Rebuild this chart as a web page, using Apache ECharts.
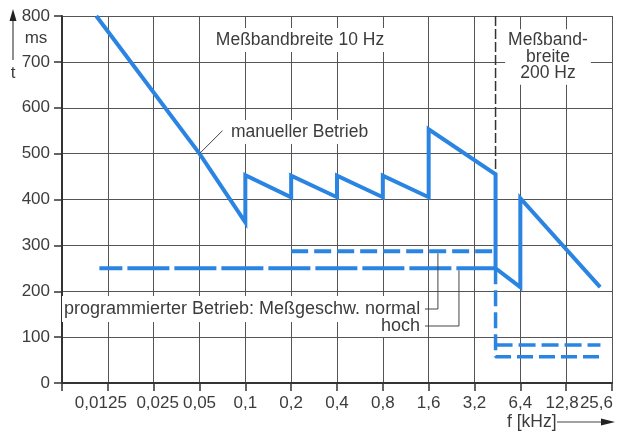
<!DOCTYPE html>
<html><head><meta charset="utf-8">
<script src="https://cdn.jsdelivr.net/npm/echarts@6/dist/echarts.min.js"></script>
<style>html,body{margin:0;padding:0;background:#fff}#c{width:620px;height:432px}</style>
</head><body><div id="c"></div>
<script>
// ---- data ----
const F0 = 0.00625; // kHz at left edge (one octave below 0.0125)
const tickLabels = ['', '0,0125', '0,025', '0,05', '0,1', '0,2', '0,4', '0,8', '1,6', '3,2', '6,4', '12,8', '25,6'];
const manualF = [0.0105, 0.05, 0.1, 0.1, 0.2, 0.2, 0.4, 0.4, 0.8, 0.8, 1.6, 1.6, 4.4, 4.4, 6.4, 6.4, 21.4];
const manualT = [800, 500, 350, 453, 405, 452, 405, 452, 405, 452, 405, 553, 455, 250, 209, 403, 209];
const hochUpperF = [0.011, 4.4];
const hochUpperT = [250, 250];
const hochLowerF = [4.4, 4.4, 21.5];
const hochLowerT = [250, 57, 57];
const normalUpperF = [0.2, 4.4];
const normalUpperT = [287, 287];
const normalLowerF = [4.4, 21.5];
const normalLowerT = [83, 83];
const bandSplitF = [4.4, 4.4];
const bandSplitT = [800, 455];
// annotation anchors (data coords)
const manualLeaderF = 0.05, manualLeaderT = 500;
const normalLeaderF = 1.84, hochLeaderF = 2.53;

// ---- chart ----
const X = f => Math.log2(f / F0);
const pairs = (fs, ts) => fs.map((f, i) => [X(f), ts[i]]);
const BLUE = '#2a84e2';
const FONT = '"Liberation Sans", Arial, sans-serif';
const TXT = '#3c3c3c';
const LAST = tickLabels.length - 1;
// small per-label nudges (style only)
const labelRich = {
  a: { fontSize: 17, color: TXT, fontFamily: FONT, padding: [0, 14, 0, 0] },
  b: { fontSize: 17, color: TXT, fontFamily: FONT, padding: [0, 0, 0, 8] },
  c: { fontSize: 17, color: TXT, fontFamily: FONT, padding: [0, 8, 0, 0] }
};
const labelStyleKey = { 1: 'a', 2: 'b', 11: 'c' };

const chart = echarts.init(document.getElementById('c'));
const option = {
  animation: false,
  backgroundColor: '#fff',
  grid: { left: 62, right: 8, top: 16, bottom: 49, containLabel: false },
  xAxis: {
    type: 'value', min: 0, max: LAST, interval: 1,
    axisLine: { show: true, lineStyle: { color: '#333', width: 2 } },
    axisTick: { show: true, length: 8, lineStyle: { color: '#333', width: 1.5 } },
    splitLine: { show: true, lineStyle: { color: '#555', width: 1 } },
    axisLabel: {
      formatter: v => {
        const i = Math.round(v);
        if (i === LAST) return '';
        const k = labelStyleKey[i];
        return k ? '{' + k + '|' + tickLabels[i] + '}' : (tickLabels[i] || '');
      },
      rich: labelRich,
      margin: 12, fontSize: 17, color: TXT, fontFamily: FONT
    }
  },
  yAxis: {
    type: 'value', min: 0, max: 800, interval: 100,
    axisLine: { show: true, lineStyle: { color: '#333', width: 2 } },
    axisTick: { show: true, length: 8, lineStyle: { color: '#333', width: 1.5 } },
    splitLine: { show: true, lineStyle: { color: '#555', width: 1 } },
    axisLabel: { margin: 12, fontSize: 17, color: TXT, fontFamily: FONT }
  },
  series: [
    { type: 'line', data: pairs(bandSplitF, bandSplitT), symbol: 'none', z: 1,
      lineStyle: { color: '#333', width: 1.5, type: [10, 3] } },
    { type: 'line', data: pairs(hochUpperF, hochUpperT), symbol: 'none',
      lineStyle: { color: BLUE, width: 4, type: [42, 5], dashOffset: 19, cap: 'butt' } },
    { type: 'line', data: pairs(hochLowerF, hochLowerT), symbol: 'none',
      lineStyle: { color: BLUE, width: 3.5, type: [16, 6], cap: 'butt' } },
    { type: 'line', data: pairs(normalUpperF, normalUpperT), symbol: 'none',
      lineStyle: { color: BLUE, width: 4, type: [17, 6], cap: 'butt' } },
    { type: 'line', data: pairs(normalLowerF, normalLowerT), symbol: 'none',
      lineStyle: { color: BLUE, width: 3.5, type: [17, 6], cap: 'butt' } },
    { type: 'line', data: pairs(manualF, manualT), symbol: 'none',
      lineStyle: { color: BLUE, width: 4, join: 'miter' } }
  ]
};
chart.setOption(option);

const P = (f, t) => chart.convertToPixel({ gridIndex: 0 }, [X(f), t]);
const txt = (text, x, y, align, size, extra) => Object.assign({
  type: 'text', x: x, y: y, z: 20,
  style: Object.assign({ text: text, fill: TXT, font: size + 'px ' + FONT, align: align, verticalAlign: 'middle',
    backgroundColor: '#fff', padding: [3, 3] }, extra || {})
});
const ln = (pts, w) => ({ type: 'polyline', z: 25, shape: { points: pts }, style: { stroke: '#444', lineWidth: w || 1, fill: null } });

const mP = P(manualLeaderF, manualLeaderT);
const nP = P(normalLeaderF, normalUpperT[0]);
const hP = P(hochLeaderF, hochUpperT[0]);
const lastTick = chart.convertToPixel({ gridIndex: 0 }, [LAST, 0]);
const graphics = [
  txt(tickLabels[LAST], lastTick[0] + 1, lastTick[1] + 12, 'right', 17, { backgroundColor: null, verticalAlign: 'top', padding: 0 }),
  txt('Meßbandbreite 10 Hz', 300, 40, 'center', 17.5),
  txt('manueller Betrieb', 228, 132, 'left', 17.5),
  txt('Meßband-\nbreite\n200 Hz', 548, 57, 'center', 17.5, { lineHeight: 16.5 }),
  txt('programmierter Betrieb: Meßgeschw. normal', 62, 309, 'left', 18, { padding: [4, 2] }),
  txt('hoch', 422, 326, 'right', 18, { padding: [2, 2] }),
  txt('ms', 36, 38, 'center', 17, { backgroundColor: null }),
  txt('t', 13, 73, 'center', 17, { backgroundColor: null }),
  txt('f [kHz]', 504, 422, 'left', 17.5, { backgroundColor: null }),
  ln([[mP[0], mP[1]], [mP[0] + 23, mP[1] - 23]]),
  ln([[425, 309], [nP[0], 309], [nP[0], nP[1] + 2]]),
  ln([[425, 326], [hP[0], 326], [hP[0], hP[1] + 2]]),
  ln([[557, 422], [601, 422]]),
  { type: 'polygon', z: 25, shape: { points: [[601, 418.5], [615, 422], [601, 425.5]] }, style: { fill: '#222' } },
  ln([[13, 19], [13, 60]], 1.2),
  { type: 'polygon', z: 25, shape: { points: [[9.5, 21], [13, 9], [16.5, 21]] }, style: { fill: '#222' } }
];
chart.setOption({ graphic: graphics });
</script>
</body></html>
